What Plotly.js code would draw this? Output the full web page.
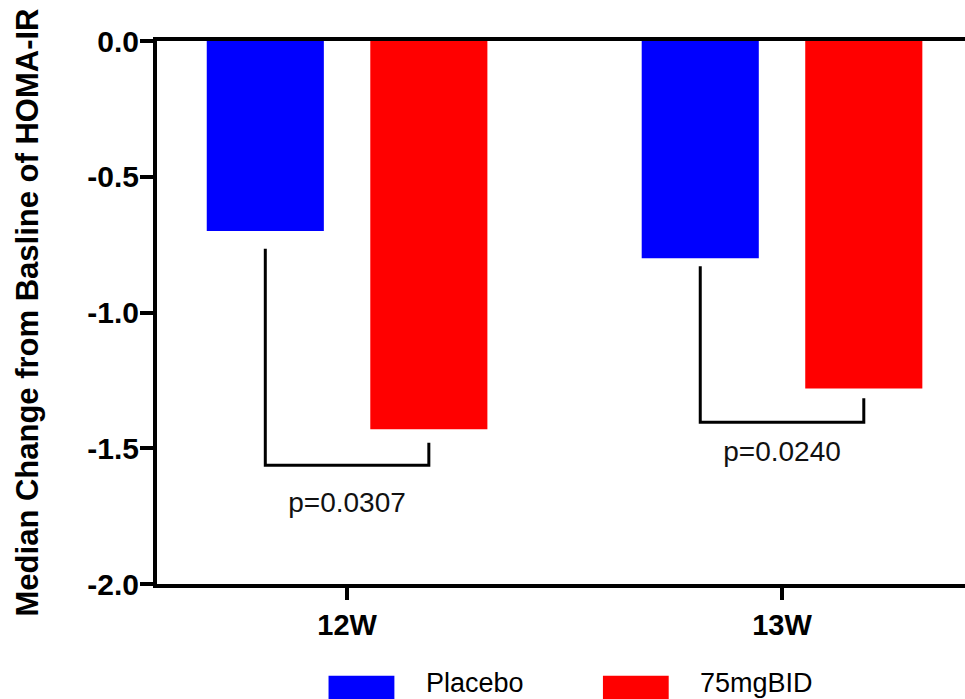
<!DOCTYPE html>
<html>
<head>
<meta charset="utf-8">
<script src="https://cdn.plot.ly/plotly-3.0.1.min.js"></script>
<style>html,body{margin:0;padding:0;background:#fff;}#chart{width:965px;height:699px;}</style>
</head>
<body>
<div id="chart"></div>
<script>
// ---- data ----
const categories = ['12W', '13W'];
const seriesNames = ['Placebo', '75mgBID'];
const placebo = [-0.70, -0.80];
const mg75 = [-1.43, -1.28];
const pLabels = ['p=0.0307', 'p=0.0240'];
const bracketLeftTop = [-0.765, -0.83];
const bracketBase = [-1.5625, -1.404];
const bracketRightTop = [-1.48, -1.316];
const pLabelY = [-1.71, -1.52];
const yTicks = [0, -0.5, -1.0, -1.5, -2.0];
const yTickText = ['0.0', '-0.5', '-1.0', '-1.5', '-2.0'];

const FONT = 'Liberation Sans, Arial, sans-serif';
const colors = ['#0000FF', '#FF0000'];
const idx = categories.map((c, i) => i);
const bargap = 0.248, bargroupgap = 0.284;
const half = (1 - bargap) / 4; // offset of bar centers from category center

const traces = [
  {type: 'bar', x: idx, y: placebo, name: seriesNames[0], marker: {color: colors[0]}, showlegend: false, hoverinfo: 'skip'},
  {type: 'bar', x: idx, y: mg75, name: seriesNames[1], marker: {color: colors[1]}, showlegend: false, hoverinfo: 'skip'}
];
idx.forEach(i => {
  traces.push({
    type: 'scatter', mode: 'lines', showlegend: false, hoverinfo: 'skip',
    x: [i - half, i - half, i + half, i + half],
    y: [bracketLeftTop[i], bracketBase[i], bracketBase[i], bracketRightTop[i]],
    line: {color: '#000', width: 3}
  });
});
traces.push({
  type: 'scatter', mode: 'text', showlegend: false, hoverinfo: 'skip',
  x: idx, y: pLabelY, text: pLabels,
  textfont: {family: FONT, size: 28, color: '#111'}
});

// custom legend (large swatches)
const legendX = [[0.2123, 0.2938], [0.5519, 0.6333]];
const legendTextX = [0.3309, 0.669];
const shapes = seriesNames.map((n, k) => ({
  type: 'rect', xref: 'paper', yref: 'paper',
  x0: legendX[k][0], x1: legendX[k][1], y0: -0.169, y1: -0.23,
  fillcolor: colors[k], line: {width: 0}
}));
const annotations = seriesNames.map((n, k) => ({
  xref: 'paper', yref: 'paper', x: legendTextX[k], y: -0.183,
  xanchor: 'left', yanchor: 'middle', showarrow: false, text: n,
  font: {family: FONT, size: 27, color: '#000'}
}));

const layout = {
  width: 965, height: 699,
  margin: {l: 157, r: 0, t: 41, b: 115},
  paper_bgcolor: '#fff', plot_bgcolor: '#fff',
  barmode: 'group', bargap: bargap, bargroupgap: bargroupgap,
  showlegend: false,
  xaxis: {
    type: 'linear', range: [-0.437, 1.4207],
    tickvals: idx, ticktext: categories,
    showgrid: false, zeroline: false,
    showline: true, linecolor: '#000', linewidth: 4, mirror: true,
    ticks: 'outside', ticklen: 12, tickwidth: 4, tickcolor: '#000',
    tickfont: {family: FONT, size: 29, weight: 'bold', color: '#000'},
    fixedrange: true
  },
  yaxis: {
    range: [-2.0, 0.0],
    tickvals: yTicks, ticktext: yTickText,
    showgrid: false, zeroline: false,
    showline: true, linecolor: '#000', linewidth: 4,
    ticks: 'outside', ticklen: 13, tickwidth: 4, tickcolor: '#000',
    ticklabelstandoff: -5,
    tickfont: {family: FONT, size: 30, weight: 'bold', color: '#000'},
    title: {text: 'Median Change from Basline of HOMA-IR', standoff: 40,
            font: {family: FONT, size: 31, weight: 'bold', color: '#000'}},
    fixedrange: true
  },
  shapes: shapes,
  annotations: annotations
};

Plotly.newPlot('chart', traces, layout, {displayModeBar: false, staticPlot: true});
</script>
</body>
</html>
